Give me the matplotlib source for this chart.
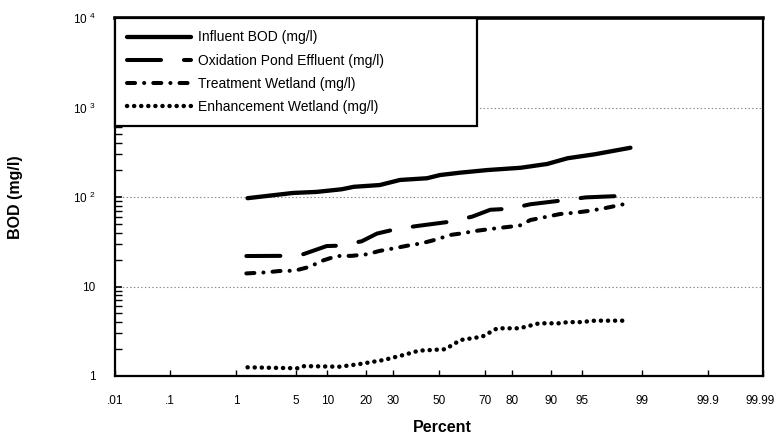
import numpy as np
import matplotlib
matplotlib.use("Agg")
import matplotlib.pyplot as plt
import matplotlib.transforms as mtransforms
from statistics import NormalDist

# values (percent, BOD mg/l)
influent_pct = [1.4, 4.7, 8.0, 13.2, 16.4, 24.8, 32.7, 44.5, 50.5, 59.6, 71.0, 82.5, 89.3, 93.0, 96.3, 98.6]
influent_bod = [97, 111, 114, 122, 130, 136, 155, 162, 176, 187, 200, 212, 234, 271, 300, 355]

oxid_pct = [1.35, 3.7, 6.0, 9.85, 12.7, 18.75, 23.8, 31.4, 40.0, 54.6, 64.8, 72.2, 79.3, 85.3, 92.7, 95.4, 98.25]
oxid_bod = [21.9, 22, 23, 28.3, 28.6, 32, 39, 44, 47.4, 52.8, 60.3, 72, 74, 83, 92.5, 99, 103]

treat_pct = [1.35, 2.4, 3.35, 4.85, 6.9, 8.9, 12.0, 15.8, 20.4, 24.8, 30.2, 36.5, 42.2, 49.1,
             55.0, 60.5, 66.1, 72.2, 78.3, 82.2, 85.3, 89.3, 91.8, 94.1, 95.9, 97.1, 98.5]
treat_bod = [14.0, 14.4, 14.9, 15.0, 16.6, 19.3, 21.9, 22.0, 22.9, 25.0, 26.7, 28.8, 30.4, 33.7,
             37.6, 39.3, 41.7, 43.9, 46.2, 47.8, 55.3, 60.3, 64.6, 66.8, 70.3, 74.8, 85]

enh_pct = [1.4, 5.3, 6.1, 12.7, 18.1, 26.3, 34.3, 40.9, 52.8, 56.9, 59.6, 69.0, 74.8, 82.2,
           87.5, 91.8, 93.0, 94.8, 96.3, 98.35]
enh_bod = [1.25, 1.22, 1.29, 1.27, 1.36, 1.51, 1.72, 1.92, 1.99, 2.28, 2.52, 2.75, 3.41, 3.41,
           3.88, 3.88, 4.0, 4.0, 4.15, 4.15]

xtick_pct = [0.01, 0.1, 1, 5, 10, 20, 30, 50, 70, 80, 90, 95, 99, 99.9, 99.99]
xtick_lab = [".01", ".1", "1", "5", "10", "20", "30", "50", "70", "80", "90", "95", "99", "99.9", "99.99"]
ytick_val = [1, 10, 100, 1000, 10000]
ytick_lab = ["1", "10", "10 $^{2}$", "10 $^{3}$", "10 $^{4}$"]

plt.rcParams["font.family"] = ["Liberation Sans", "DejaVu Sans"]
plt.rcParams["mathtext.fontset"] = "custom"
plt.rcParams["mathtext.rm"] = "Liberation Sans"
plt.rcParams["mathtext.it"] = "Liberation Sans"
plt.rcParams["mathtext.bf"] = "Liberation Sans:bold"
plt.rcParams["mathtext.default"] = "regular"
plt.rcParams["lines.scale_dashes"] = False

_nd = NormalDist()
_ppf = np.vectorize(_nd.inv_cdf, otypes=[float])
_cdf = np.vectorize(_nd.cdf, otypes=[float])


def prob_fwd(p):
    p = np.clip(np.asarray(p, dtype=float) / 100.0, 1e-12, 1 - 1e-12)
    return _ppf(p)


def prob_inv(z):
    return _cdf(np.asarray(z, dtype=float)) * 100.0


fig = plt.figure(figsize=(7.78, 4.34), dpi=100)
ax = fig.add_axes([115 / 778, 58 / 434, 648 / 778, 358 / 434])
ax.set_xscale("function", functions=(prob_fwd, prob_inv))
ax.set_yscale("log")

ax.plot(influent_pct, influent_bod, color="black", lw=3.1, solid_capstyle="round",
        solid_joinstyle="round", label="Influent BOD (mg/l)")
ax.plot(oxid_pct, oxid_bod, color="black", lw=2.9, dashes=(24.5, 16.5), dash_capstyle="round",
        dash_joinstyle="round", label="Oxidation Pond Effluent (mg/l)")
ax.plot(treat_pct, treat_bod, color="black", lw=2.9, dashes=(5.8, 6.5, 0.1, 6.5), dash_capstyle="round",
        dash_joinstyle="round", label="Treatment Wetland (mg/l)")
ax.plot(enh_pct, enh_bod, color="black", lw=3.2, dashes=(0.1, 5.0), dash_capstyle="round",
        label="Enhancement Wetland (mg/l)")

ax.set_xlim(0.01, 99.99)
ax.set_ylim(1, 10000)
ax.set_xticks(xtick_pct)
ax.set_xticklabels(xtick_lab, fontsize=8.5)
ax.xaxis.set_minor_locator(matplotlib.ticker.NullLocator())
ax.set_yticks(ytick_val)
ax.set_yticklabels(ytick_lab, fontsize=8.5)

ax.tick_params(axis="x", direction="in", length=4, width=1, pad=14, top=False)
ax.tick_params(axis="y", which="major", direction="in", length=5, width=1.2, pad=14, right=False)
ax.tick_params(axis="y", which="minor", direction="in", length=5, width=1, right=False)

# last label sits at the right edge of the figure, nudge it in a little
last = ax.get_xticklabels()[-1]
last.set_transform(last.get_transform() + mtransforms.ScaledTranslation(-3 / 100, 0, fig.dpi_scale_trans))

ax.yaxis.grid(True, which="major", color="#888888", linestyle=":", linewidth=0.8)
ax.set_axisbelow(True)

for side in ["left", "right", "bottom"]:
    ax.spines[side].set_linewidth(1.6)
ax.spines["top"].set_linewidth(2.6)

leg = ax.legend(loc="upper left", bbox_to_anchor=(0, 1, (477 - 115) / 648, 0), mode="expand",
                borderaxespad=0, fontsize=10, handlelength=4.6, handletextpad=0.45,
                labelspacing=0.65, borderpad=0.9, fancybox=False, framealpha=1)
leg.get_frame().set_edgecolor("black")
leg.get_frame().set_linewidth(1.6)

fig.text(442 / 778, 1 - 428 / 434, "Percent", ha="center", va="center", fontsize=11.5, fontweight="bold")
fig.text(16 / 778, 1 - 197 / 434, "BOD (mg/l)", ha="center", va="center", rotation=90,
         fontsize=11.5, fontweight="bold")

fig.savefig("out.png", dpi=100)
